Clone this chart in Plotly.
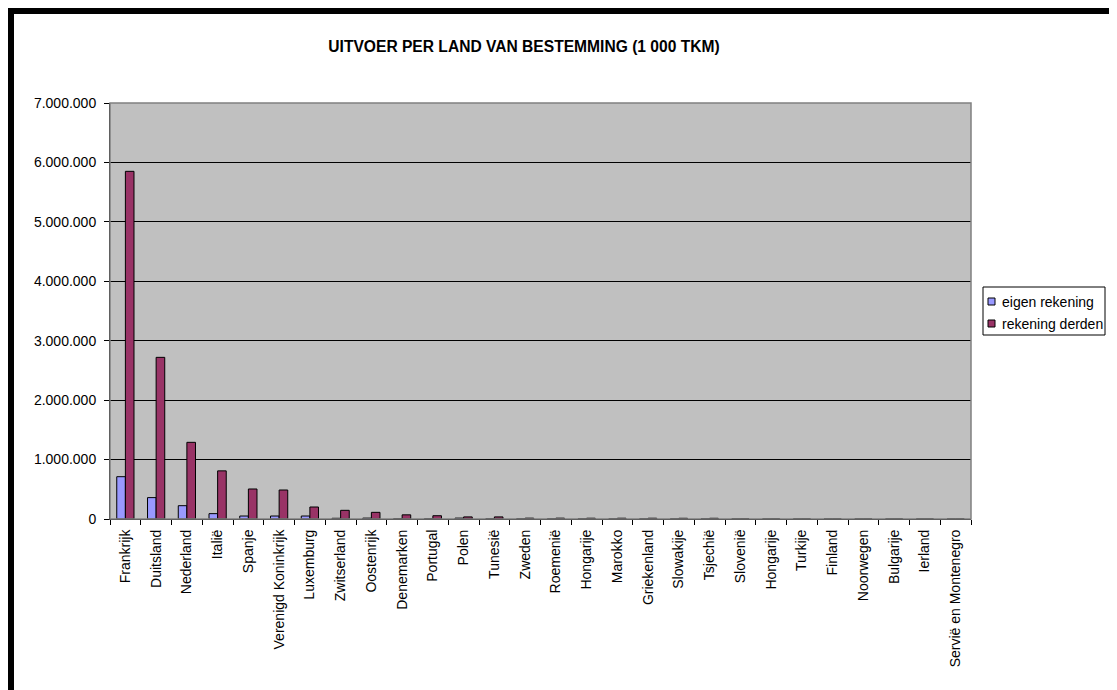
import plotly.graph_objects as go

countries = ["Frankrijk", "Duitsland", "Nederland", "Italië", "Spanje",
             "Verenigd Koninkrijk", "Luxemburg", "Zwitserland", "Oostenrijk",
             "Denemarken", "Portugal", "Polen", "Tunesië", "Zweden", "Roemenië",
             "Hongarije", "Marokko", "Griekenland", "Slowakije", "Tsjechië",
             "Slovenië", "Hongarije", "Turkije", "Finland", "Noorwegen",
             "Bulgarije", "Ierland", "Servië en Montenegro"]
eigen_rekening = [712000, 360000, 224000, 90000, 50000, 50000, 50000, 12000,
                  15000, 3000, 2000, 15000, 3000, 2000, 2000, 2000, 1500, 1500,
                  1500, 1500, 800, 500, 500, 400, 300, 300, 200, 100]
rekening_derden = [5850000, 2720000, 1290000, 810000, 505000, 488000, 202000,
                   146000, 112000, 70000, 55000, 35000, 35000, 14000, 14000,
                   13000, 13000, 13000, 12000, 12000, 2500, 2000, 1500, 1000,
                   800, 600, 400, 300]
series_names = ["eigen rekening", "rekening derden"]
series_colors = ["#9999FF", "#993366"]
y_ticks = [0, 1000000, 2000000, 3000000, 4000000, 5000000, 6000000, 7000000]

OFF = 8  # default page body margin
W, H = 1117 - OFF, 690 - OFF
L, R, T, B = 110 - OFF, 971 - OFF, 103 - OFF, 519 - OFF
pos = list(range(len(countries)))

FONT = "Liberation Sans, Arial, sans-serif"

fig = go.Figure()
for name, vals, col in zip(series_names, [eigen_rekening, rekening_derden], series_colors):
    fig.add_trace(go.Bar(x=pos, y=vals, name=name,
                         marker=dict(color=col, line=dict(color="black", width=1))))

def px_x(p):
    return (p - L) / (R - L)

def px_y(p):
    return (B - p) / (B - T)

shapes = [
    dict(type="rect", xref="paper", yref="paper", x0=0, x1=1, y0=0, y1=1,
         line=dict(color="#808080", width=1.5), fillcolor="rgba(0,0,0,0)", layer="above"),
    dict(type="rect", xref="paper", yref="paper", x0=px_x(0), x1=px_x(W + 5),
         y0=px_y(6), y1=px_y(-1), line=dict(width=0), fillcolor="black"),
    dict(type="rect", xref="paper", yref="paper", x0=px_x(-1), x1=px_x(6),
         y0=px_y(H + 5), y1=px_y(-1), line=dict(width=0), fillcolor="black"),
    # legend box
    dict(type="rect", xref="paper", yref="paper", x0=px_x(983 - OFF), x1=px_x(1105 - OFF),
         y0=px_y(335 - OFF), y1=px_y(287 - OFF), line=dict(color="black", width=1),
         fillcolor="white"),
]
annotations = []
for i, (name, col) in enumerate(zip(series_names, series_colors)):
    cy = 301.5 + 22 * i - OFF
    shapes.append(dict(type="rect", xref="paper", yref="paper",
                       x0=px_x(988 - OFF), x1=px_x(995 - OFF),
                       y0=px_y(cy + 3.5), y1=px_y(cy - 3.5),
                       line=dict(color="black", width=1), fillcolor=col))
    annotations.append(dict(text=name, xref="paper", yref="paper",
                            x=px_x(1000 - OFF), y=px_y(cy), xanchor="left", yanchor="middle",
                            showarrow=False, font=dict(family=FONT, size=14, color="black")))

fig.update_layout(
    width=W, height=H,
    margin=dict(l=L, r=W - R, t=T, b=H - B, pad=0, autoexpand=False),
    paper_bgcolor="white", plot_bgcolor="#C0C0C0",
    separators=",.",
    barmode="group", bargap=0.44, bargroupgap=0,
    font=dict(family=FONT, size=14, color="black"),
    title=dict(text="<b>UITVOER PER LAND VAN BESTEMMING (1 000 TKM)</b>",
               x=(524 - OFF) / W, xref="container", xanchor="center",
               y=1 - (47 - OFF) / H, yref="container", yanchor="middle",
               font=dict(family=FONT, size=15.6, color="black")),
    showlegend=False,
    shapes=shapes,
    annotations=annotations,
    xaxis=dict(range=[-0.5, len(countries) - 0.5], tickmode="array",
               tickvals=pos, ticktext=countries, tickangle=-90,
               ticks="", showgrid=False, zeroline=False,
               showline=True, linecolor="black", linewidth=1,
               ticklabelstandoff=4,
               tickfont=dict(family=FONT, size=14, color="black"),
               minor=dict(tickmode="array", tickvals=[p - 0.5 for p in pos] + [len(countries) - 0.5],
                          ticks="outside", ticklen=5, tickcolor="black", tickwidth=1,
                          showgrid=False)),
    yaxis=dict(range=[0, 7000000], tickmode="array", tickvals=y_ticks,
               tickformat=",d", ticks="outside", ticklen=5, tickcolor="black",
               ticklabelstandoff=5,
               showgrid=True, gridcolor="black", gridwidth=1,
               zeroline=False, showline=True, linecolor="black", linewidth=1,
               tickfont=dict(family=FONT, size=14, color="black")),
)

fig.write_html("out.html")
